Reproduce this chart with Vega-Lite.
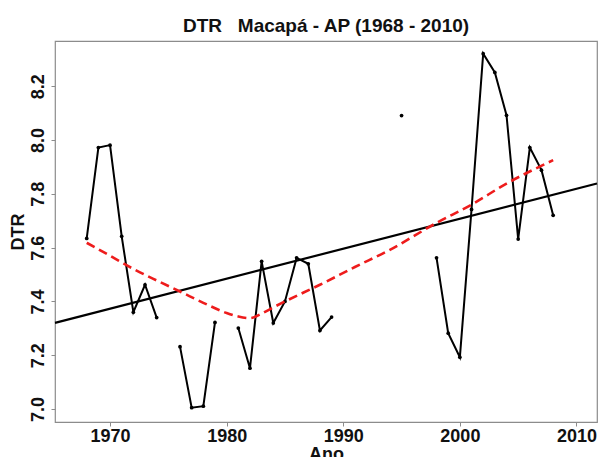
{
  "$schema": "https://vega.github.io/schema/vega-lite/v6.json",
  "width": 542,
  "height": 381,
  "autosize": {"type": "none"},
  "padding": {"left": 55, "top": 41, "right": 1, "bottom": 35},
  "background": "white",
  "config": {
    "font": "Liberation Sans",
    "view": {"stroke": "#8c8c8c", "strokeWidth": 1.2},
    "axis": {
      "domain": false, "grid": false,
      "tickColor": "#8c8c8c", "tickSize": 4,
      "labelFont": "Liberation Sans", "labelFontSize": 18, "labelFontWeight": "bold", "labelColor": "#111",
      "titleFont": "Liberation Sans", "titleFontSize": 18, "titleFontWeight": "bold", "titleColor": "#111"
    }
  },
  "title": {
    "text": "DTR\u00a0\u00a0 Macapá - AP (1968 - 2010)",
    "font": "Liberation Sans", "fontSize": 19, "fontWeight": "bold", "color": "#111",
    "anchor": "middle", "offset": 5
  },
  "datasets": {
    "obs": [
      {"ano": 1968, "dtr": 7.634}, {"ano": 1969, "dtr": 7.972}, {"ano": 1970, "dtr": 7.981},
      {"ano": 1971, "dtr": 7.642}, {"ano": 1972, "dtr": 7.360}, {"ano": 1973, "dtr": 7.462},
      {"ano": 1974, "dtr": 7.340}, {"ano": 1975, "dtr": null}, {"ano": 1976, "dtr": 7.232},
      {"ano": 1977, "dtr": 7.005}, {"ano": 1978, "dtr": 7.011}, {"ano": 1979, "dtr": 7.322},
      {"ano": 1980, "dtr": null}, {"ano": 1981, "dtr": 7.301}, {"ano": 1982, "dtr": 7.152},
      {"ano": 1983, "dtr": 7.549}, {"ano": 1984, "dtr": 7.320}, {"ano": 1985, "dtr": 7.400},
      {"ano": 1986, "dtr": 7.562}, {"ano": 1987, "dtr": 7.540}, {"ano": 1988, "dtr": 7.292},
      {"ano": 1989, "dtr": 7.342}, {"ano": 1990, "dtr": null}, {"ano": 1991, "dtr": null},
      {"ano": 1992, "dtr": null}, {"ano": 1993, "dtr": null}, {"ano": 1994, "dtr": null},
      {"ano": 1995, "dtr": 8.091}, {"ano": 1996, "dtr": null}, {"ano": 1997, "dtr": null},
      {"ano": 1998, "dtr": 7.562}, {"ano": 1999, "dtr": 7.282}, {"ano": 2000, "dtr": 7.193},
      {"ano": 2001, "dtr": 7.742}, {"ano": 2002, "dtr": 8.321}, {"ano": 2003, "dtr": 8.251},
      {"ano": 2004, "dtr": 8.092}, {"ano": 2005, "dtr": 7.632}, {"ano": 2006, "dtr": 7.972},
      {"ano": 2007, "dtr": 7.888}, {"ano": 2008, "dtr": 7.720}
    ],
    "trend": [
      {"ano": 1965.28, "dtr": 7.3205}, {"ano": 2011.76, "dtr": 7.8386}
    ],
    "lowess": [
      {"ano": 1968, "dtr": 7.618}, {"ano": 1970, "dtr": 7.570}, {"ano": 1972, "dtr": 7.521},
      {"ano": 1974, "dtr": 7.478}, {"ano": 1976, "dtr": 7.437}, {"ano": 1978, "dtr": 7.395},
      {"ano": 1980, "dtr": 7.357}, {"ano": 1981, "dtr": 7.344}, {"ano": 1982, "dtr": 7.338},
      {"ano": 1983, "dtr": 7.355}, {"ano": 1984, "dtr": 7.378}, {"ano": 1985, "dtr": 7.400},
      {"ano": 1988, "dtr": 7.462}, {"ano": 1991, "dtr": 7.528}, {"ano": 1994, "dtr": 7.592},
      {"ano": 1998, "dtr": 7.692}, {"ano": 2001, "dtr": 7.760}, {"ano": 2004, "dtr": 7.838},
      {"ano": 2008, "dtr": 7.925}
    ]
  },
  "encoding": {
    "x": {
      "field": "ano", "type": "quantitative", "title": "Ano",
      "scale": {"domain": [1965.28, 2011.76], "nice": false, "zero": false},
      "axis": {"values": [1970, 1980, 1990, 2000, 2010], "format": "d", "labelPadding": 1, "titlePadding": 0, "labelFlush": false}
    },
    "y": {
      "field": "dtr", "type": "quantitative", "title": "DTR",
      "scale": {"domain": [6.952, 8.368], "nice": false, "zero": false},
      "axis": {"values": [7.0, 7.2, 7.4, 7.6, 7.8, 8.0, 8.2], "format": ".1f", "labelAngle": -90, "labelAlign": "center", "labelBaseline": "bottom", "labelPadding": 4, "titlePadding": 2, "labelFlush": false}
    }
  },
  "layer": [
    {
      "data": {"name": "obs"},
      "mark": {"type": "line", "color": "#000", "strokeWidth": 2, "invalid": "break-paths-show-domains"}
    },
    {
      "data": {"name": "obs"},
      "mark": {"type": "point", "filled": true, "color": "#000", "size": 14, "opacity": 1}
    },
    {
      "data": {"name": "trend"},
      "mark": {"type": "line", "color": "#000", "strokeWidth": 2.2}
    },
    {
      "data": {"name": "lowess"},
      "mark": {"type": "line", "color": "#ee1c1c", "strokeWidth": 2.6, "strokeDash": [9, 5], "interpolate": "monotone"}
    }
  ]
}
